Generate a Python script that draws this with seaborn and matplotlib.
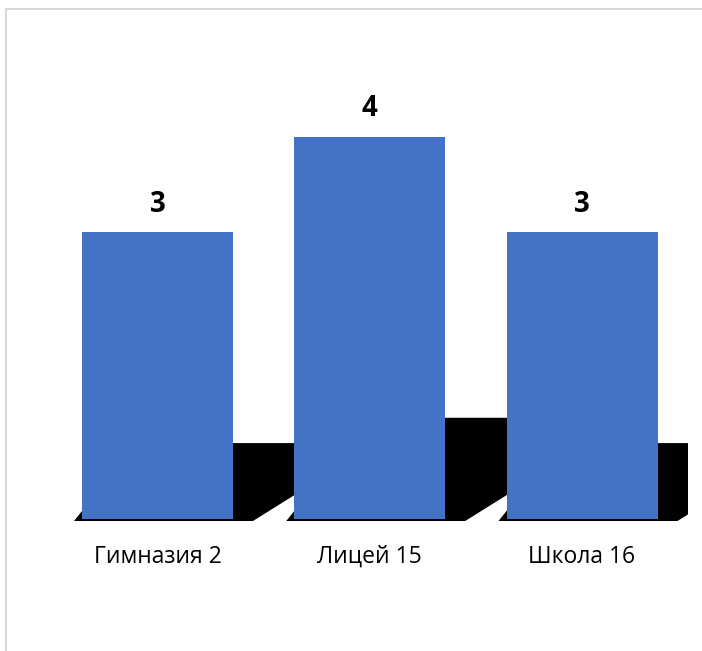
import matplotlib
matplotlib.use('Agg')
import matplotlib.pyplot as plt
import seaborn as sns
import pandas as pd
from matplotlib.patches import Rectangle

# data
schools = ['Гимназия 2', 'Лицей 15', 'Школа 16']
counts = [3, 4, 3]

df = pd.DataFrame({'school': schools, 'count': counts})

W, H = 702, 651
fig = plt.figure(figsize=(W / 100, H / 100), dpi=100)
fig.patch.set_facecolor('white')

# plot area placed so that 0 sits at y=519px, one unit = 95.5px
px_x = 212.25
px_y = 95.5
ymin, ymax = -0.1, 5.0
left = 157.5 - 0.5 * px_x
bottom = (H - 519) + ymin * px_y
ax = fig.add_axes([left / W, bottom / H, 3 * px_x / W, (ymax - ymin) * px_y / H])

bar_w = 151 / px_x
sns.barplot(data=df, x='school', y='count', color='#4472C4', width=bar_w,
            saturation=1, ax=ax, zorder=3)

# perspective shadow behind each bar
skew = 1.6 * px_y / px_x
base = -2 / px_y
for i, v in enumerate(counts):
    top = 0.265 * v
    lb = i - bar_w / 2 - 8 / px_x
    rb = i + bar_w / 2 + 20 / px_x
    d = skew * (top - base)
    ax.fill([lb, rb, rb + d, lb + 0.5 * d], [base, base, top, top],
            color='black', lw=0, zorder=2)

for i, v in enumerate(counts):
    ax.annotate(str(v), (i, v), xytext=(0, 10), textcoords='offset points',
                ha='center', va='bottom', fontsize=20, fontweight='bold',
                family='Open Sans')

ax.set_xlim(-0.5, 2.5)
ax.set_ylim(ymin, ymax)
ax.set_xlabel('')
ax.set_ylabel('')
ax.set_yticks([])
ax.tick_params(axis='x', length=0, pad=11.5)
for lbl in ax.get_xticklabels():
    lbl.set_fontfamily('Open Sans')
    lbl.set_fontsize(16.5)
sns.despine(ax=ax, left=True, bottom=True)
ax.patch.set_alpha(0)

# light chart border (top and left visible)
fig.patches.append(Rectangle((5.5 / W, -0.1), 1.2, 1 - 8.5 / H + 0.1,
                             transform=fig.transFigure, fill=False,
                             edgecolor='#D9D9D9', lw=1.5))

fig.savefig('out.png', dpi=100)
